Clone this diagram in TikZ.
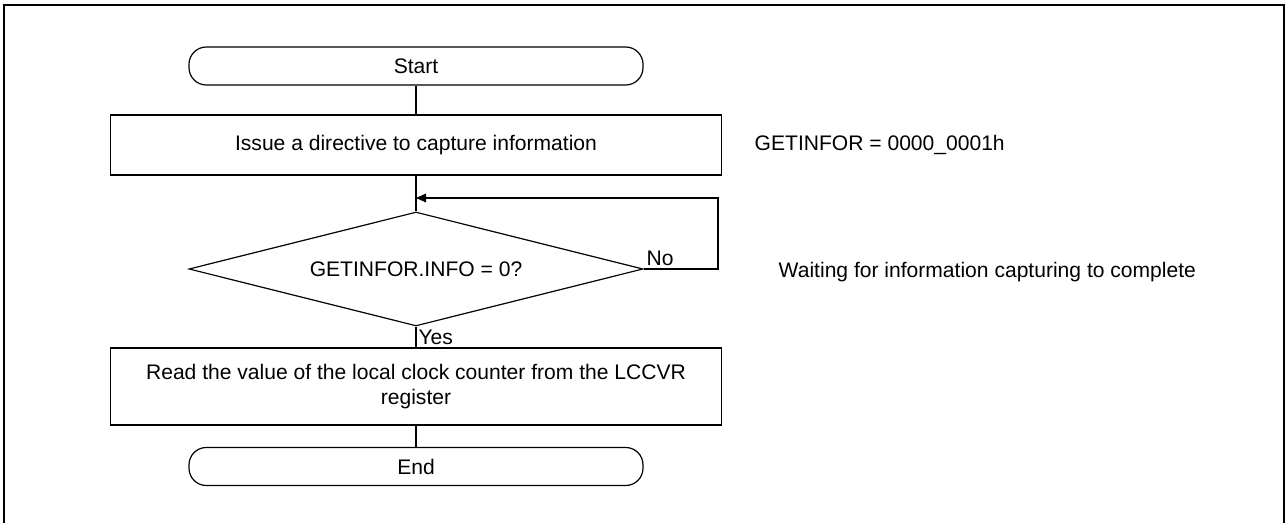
\documentclass[tikz,border=0pt]{standalone}
\usepackage{fontspec}
\setmainfont{Liberation Sans}
\usetikzlibrary{shapes.geometric, arrows.meta}
\tikzset{
  every node/.style = {font=\fontsize{15.8}{18.8}\selectfont, text=black},
  flbase/.style  = {draw, line width=0.9pt, fill=white, align=center, inner sep=2pt},
  flterm/.style  = {flbase, rounded corners=13pt, minimum width=340.5pt, minimum height=28.5pt},
  flproc/.style  = {flbase, minimum width=458pt},
  fldec/.style   = {flbase, diamond, aspect=3.98, minimum width=340.5pt, minimum height=85.5pt,
                    inner sep=0pt},
  flline/.style  = {line width=0.9pt},
  flgo/.style    = {flline, -{Triangle[length=7.5pt,width=6.5pt]}},
  flnote/.style  = {anchor=west, align=left},
  fllab/.style   = {anchor=west, inner sep=1pt},
}
\begin{document}
\begin{tikzpicture}[x=0.75pt, y=-0.75pt]
\useasboundingbox (0,0) rectangle (1288,523);
\draw[line width=1.9pt] (4,540) -- (4,5) -- (1284,5) -- (1284,540);

\node[flterm] (start)  at (416,66)  {Start};
\node[flproc, minimum height=45pt] (issue) at (416,145)
  {Issue a directive to capture information};
\node[fldec]  (wait)   at (416,269) {GETINFOR.INFO = 0?};
\node[flproc, minimum height=57.75pt] (read) at (416,386.5)
  {Read the value of the local clock counter from the LCCVR\\register};
\node[flterm] (finish) at (416,466.5) {End};

\node[flnote] (getnote)  at (750,145) {GETINFOR = 0000\_0001h};
\node[flnote] (waitnote) at (774,272) {Waiting for information capturing to complete};

\coordinate (loopin) at (416,198);
\coordinate (loopr)  at (718,198);

\draw[flline] (start) -- (issue);
\draw[flline] (issue) -- (wait);
\draw[flgo]   (wait.east) -| (loopr) -- (loopin);
\draw[flline] (wait) -- (read);
\draw[flline] (read) -- (finish);

\node[fllab] (nolab)  at (645,258) {No};
\node[fllab] (yeslab) at (417,337) {Yes};
\end{tikzpicture}
\end{document}
